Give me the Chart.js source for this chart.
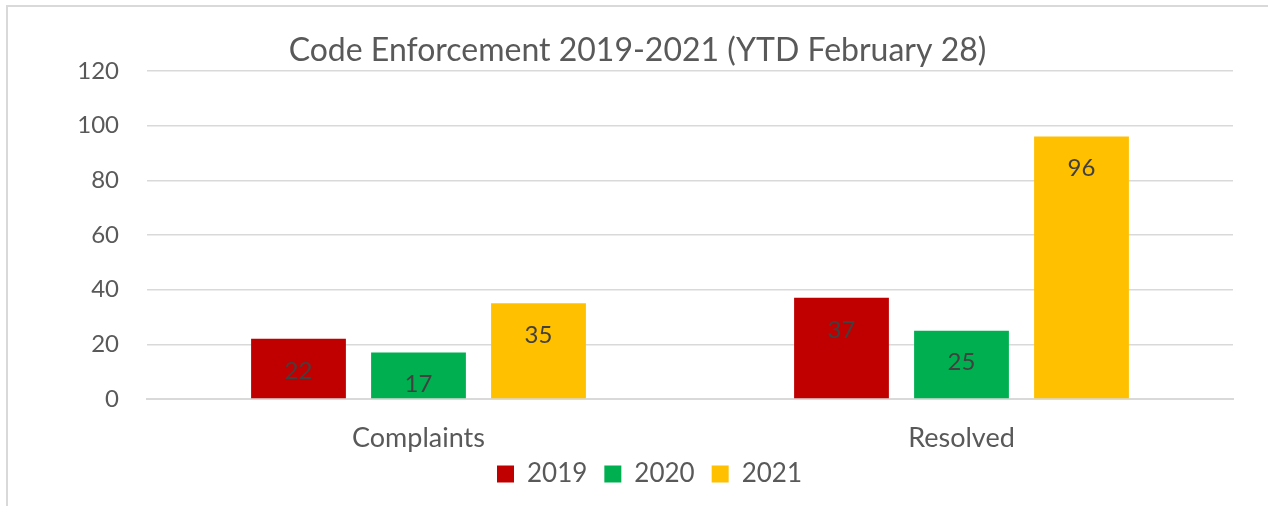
<!DOCTYPE html>
<html>
<head>
<meta charset="utf-8">
<script src="https://cdn.jsdelivr.net/npm/chart.js@4"></script>
<style>
  html, body { margin: 0; padding: 0; background: #fff; overflow: hidden; }
  #frame { position: absolute; left: 6px; top: 5px; width: 1400px; height: 700px;
           border-left: 2px solid #d9d9d9; border-top: 2px solid #d9d9d9; }
  #wrap { position: absolute; left: 0; top: 0; width: 1268px; height: 506px; }
</style>
</head>
<body>
<div id="frame"></div>
<div id="wrap"><canvas id="chart"></canvas></div>
<script>
const categories = ["Complaints", "Resolved"];
const years = ["2019", "2020", "2021"];
const values2019 = [22, 37];
const values2020 = [17, 25];
const values2021 = [35, 96];
const yearColors = ["#C00000", "#00B050", "#FFC000"];
const yTicks = [0, 20, 40, 60, 80, 100, 120];

const FONT = "Lato, 'Open Sans', sans-serif";

// value labels inside each bar, near the top
const barLabels = {
  id: "barLabels",
  afterDatasetsDraw(chart) {
    const c = chart.ctx;
    c.save();
    c.font = "24px " + FONT;
    c.fillStyle = "#404040";
    c.textAlign = "center";
    c.textBaseline = "middle";
    chart.data.datasets.forEach((ds, i) => {
      chart.getDatasetMeta(i).data.forEach((bar, j) => {
        c.fillText(String(ds.data[j]), bar.x, bar.y + 32);
      });
    });
    c.restore();
  }
};

// legend: keep the wide item spacing but take less height, and nudge it into place
const legendFit = {
  id: "legendFit",
  afterInit(chart) {
    const lg = chart.legend;
    if (!lg) return;
    const origFit = lg.fit;
    lg.fit = function () { origFit.call(this); this.height = 49; };
  },
  afterLayout(chart) {
    const lg = chart.legend;
    if (!lg) return;
    lg.top -= 13;
    lg.bottom -= 13;
    lg.left += 12;
    lg.right += 12;
  }
};

new Chart(document.getElementById("chart"), {
  type: "bar",
  data: {
    labels: categories,
    datasets: [values2019, values2020, values2021].map((vals, i) => ({
      label: years[i],
      data: vals,
      backgroundColor: yearColors[i],
      borderWidth: 0,
      categoryPercentage: 0.663,
      barPercentage: 0.79
    }))
  },
  options: {
    responsive: true,
    maintainAspectRatio: false,
    animation: false,
    devicePixelRatio: 1,
    layout: { padding: { left: 42, right: 35, top: 0, bottom: 0 } },
    plugins: {
      title: {
        display: true,
        text: "Code Enforcement 2019-2021 (YTD February 28)",
        color: "#595959",
        font: { family: FONT, size: 32, weight: "normal" },
        padding: { top: 31, bottom: 1.6 }
      },
      legend: {
        position: "bottom",
        labels: {
          color: "#595959",
          font: { family: FONT, size: 26 },
          boxWidth: 17,
          boxHeight: 17,
          padding: 17
        }
      },
      tooltip: { enabled: false }
    },
    scales: {
      x: {
        grid: { display: false, drawTicks: false },
        border: { color: "#d9d9d9", width: 2 },
        ticks: { color: "#595959", font: { family: FONT, size: 27 }, padding: 23 },
        afterFit(s) { s.height = 58; }
      },
      y: {
        min: yTicks[0],
        max: yTicks[yTicks.length - 1],
        afterBuildTicks(s) { s.ticks = yTicks.map(v => ({ value: v })); },
        grid: { color: "#d9d9d9", lineWidth: 1.5, drawTicks: false },
        border: { display: false },
        ticks: { color: "#595959", font: { family: FONT, size: 24 }, padding: 28 },
        afterFit(s) { s.width = 105; }
      }
    }
  },
  plugins: [barLabels, legendFit]
});
</script>
</body>
</html>
